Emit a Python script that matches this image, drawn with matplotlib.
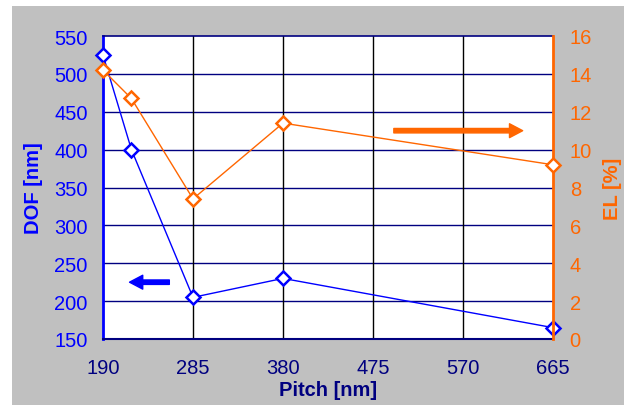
import matplotlib
matplotlib.use("Agg")
import matplotlib.pyplot as plt
from matplotlib.patches import Rectangle

# Measured data
pitch = [190, 220, 285, 380, 665]
dof = [525, 400, 205, 230, 165]
el = [14.2, 12.7, 7.4, 11.4, 9.2]

x_ticks = [190, 285, 380, 475, 570, 665]
dof_ticks = [150, 200, 250, 300, 350, 400, 450, 500, 550]
el_ticks = [0, 2, 4, 6, 8, 10, 12, 14, 16]

BLUE = "#0000FF"
ORANGE = "#FF6600"
NAVY = "#000080"
GRAY = "#C0C0C0"

plt.rcParams["font.family"] = ["Liberation Sans", "DejaVu Sans"]

fig = plt.figure(figsize=(6.24, 4.06), dpi=100, facecolor="white")
# grey chart area background
fig.add_artist(Rectangle((12 / 624, 0), 1, 1 - 7 / 406,
                         transform=fig.transFigure, facecolor=GRAY,
                         edgecolor="none", zorder=-10))

ax = fig.add_axes([103 / 624, 1 - 340 / 406, 450 / 624, 303 / 406])
ax.set_facecolor("white")
ax2 = ax.twinx()

# left axis: DOF
ax.plot(pitch, dof, color=BLUE, lw=1.0, marker="D", ms=7, mfc="white",
        mec=BLUE, mew=1.8, clip_on=False, zorder=5)
ax.set_xlim(190, 665)
ax.set_ylim(150, 550)
ax.set_xticks(x_ticks)
ax.set_yticks(dof_ticks)
ax.tick_params(axis="y", length=0, pad=11, labelsize=14.5, labelcolor=BLUE)
ax.tick_params(axis="x", length=0, pad=14, labelsize=14.5, labelcolor=NAVY)
ax.set_ylabel("DOF [nm]", color=BLUE, fontsize=14.5, fontweight="bold", labelpad=8)
ax.set_xlabel("Pitch [nm]", color=NAVY, fontsize=14.5, fontweight="bold", labelpad=2)

# grid
for y in dof_ticks[1:-1]:
    ax.axhline(y, color=NAVY, lw=1.0, zorder=1)
for x in x_ticks[1:-1]:
    ax.axvline(x, color="black", lw=1.0, zorder=1)

ax.spines["left"].set_color(BLUE)
ax.spines["left"].set_linewidth(2)
ax.spines["bottom"].set_color(NAVY)
ax.spines["bottom"].set_linewidth(1.5)
ax.spines["top"].set_color(NAVY)
ax.spines["top"].set_linewidth(1.2)
ax.spines["right"].set_visible(False)

# right axis: EL
ax2.plot(pitch, el, color=ORANGE, lw=1.0, marker="D", ms=7, mfc="white",
         mec=ORANGE, mew=1.8, clip_on=False, zorder=5)
ax2.set_ylim(0, 16)
ax2.set_yticks(el_ticks)
ax2.tick_params(axis="y", length=0, pad=12, labelsize=14.5, labelcolor=ORANGE)
ax2.set_ylabel("EL [%]", color=ORANGE, fontsize=14.5, fontweight="bold",
               rotation=90, labelpad=8)
ax2.spines["right"].set_color(ORANGE)
ax2.spines["right"].set_linewidth(2)
for s in ("left", "top", "bottom"):
    ax2.spines[s].set_visible(False)

# direction arrows
ax2.annotate("", xy=(633, 11.0), xytext=(497, 11.0),
             arrowprops=dict(width=3.2, headwidth=10, headlength=9.5,
                             color=ORANGE, shrink=0))
ax.annotate("", xy=(218, 225), xytext=(260, 225),
            arrowprops=dict(width=3.2, headwidth=10, headlength=9.5,
                            color=BLUE, shrink=0))

fig.savefig("out.png", dpi=100, facecolor="white")
